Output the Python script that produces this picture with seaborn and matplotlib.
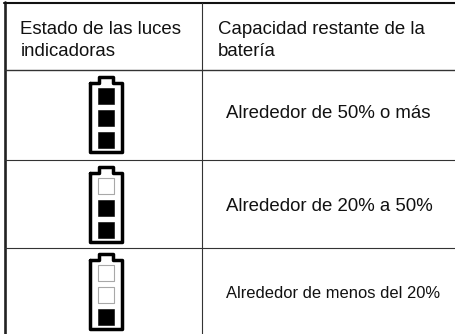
import matplotlib
matplotlib.use('Agg')
import matplotlib.pyplot as plt
import pandas as pd
import seaborn as sns

# table content
header_left = 'Estado de las luces\nindicadoras'
header_right = 'Capacidad restante de la\nbatería'
capacity_labels = ['Alrededor de 50% o más', 'Alrededor de 20% a 50%', 'Alrededor de menos del 20%']
capacity_sizes = [13.4, 13.4, 11.9]

# indicator lights per row, top slot first (1 = lit)
lights = [[1, 1, 1], [0, 1, 1], [0, 0, 1]]

# layout in image pixels
W, H = 455, 334
row_lines = [69.5, 159.5, 248]
col_line = 202
battery_tops = [75, 165, 252]
battery_cx = [106, 105.5, 106]

sns.set_theme(style='white')
plt.rcParams['font.family'] = ['Liberation Sans', 'DejaVu Sans']

fig = plt.figure(figsize=(W / 100, H / 100), dpi=100)
ax = fig.add_axes([0, 0, 1, 1])


def draw_battery(ax, cx, top):
    # outline with the cap on top
    xs = [cx - 16, cx - 16, cx + 16, cx + 16, cx + 7, cx + 7, cx - 7, cx - 7, cx - 16]
    ys = [top + 7.5, top + 77, top + 77, top + 7.5, top + 7.5, top + 1.5, top + 1.5, top + 7.5, top + 7.5]
    ax.plot(xs, ys, color='black', lw=2.5, solid_joinstyle='round', solid_capstyle='round')


# one row per indicator light
rows = []
for r, row in enumerate(lights):
    for s, lit in enumerate(row):
        rows.append({'x': battery_cx[r], 'y': battery_tops[r] + 21 + s * 22, 'state': 'on' if lit else 'off'})
df = pd.DataFrame(rows)

for top, cx in zip(battery_tops, battery_cx):
    draw_battery(ax, cx, top)

sns.scatterplot(data=df[df.state == 'on'], x='x', y='y', marker='s', s=122, color='black',
                edgecolor='black', linewidth=0.4, legend=False, ax=ax)
sns.scatterplot(data=df[df.state == 'off'], x='x', y='y', marker='s', s=122, color='white',
                edgecolor='#a8a8a8', linewidth=0.8, legend=False, ax=ax)

# table rules
ax.plot([5, 5], [2, H], color='#222222', lw=1.9)
ax.plot([4, W], [3, 3], color='#111111', lw=1.5)
for y in row_lines:
    lw = 1.0 if y == row_lines[0] else 0.8
    ax.plot([5, W], [y, y], color='#333333', lw=lw)
ax.plot([col_line, col_line], [3, H], color='#333333', lw=0.8)

# text
ax.text(20.5, 40.5, header_left, fontsize=13.4, color='#111111', va='center', linespacing=1.42)
ax.text(218, 40.5, header_right, fontsize=13.4, color='#111111', va='center', linespacing=1.42)
for y, label, size in zip([113, 206.5, 293.5], capacity_labels, capacity_sizes):
    ax.text(226, y, label, fontsize=size, color='#111111', va='center')

ax.set_xlim(0, W)
ax.set_ylim(H, 0)
ax.axis('off')

fig.savefig('out.png', dpi=100)
